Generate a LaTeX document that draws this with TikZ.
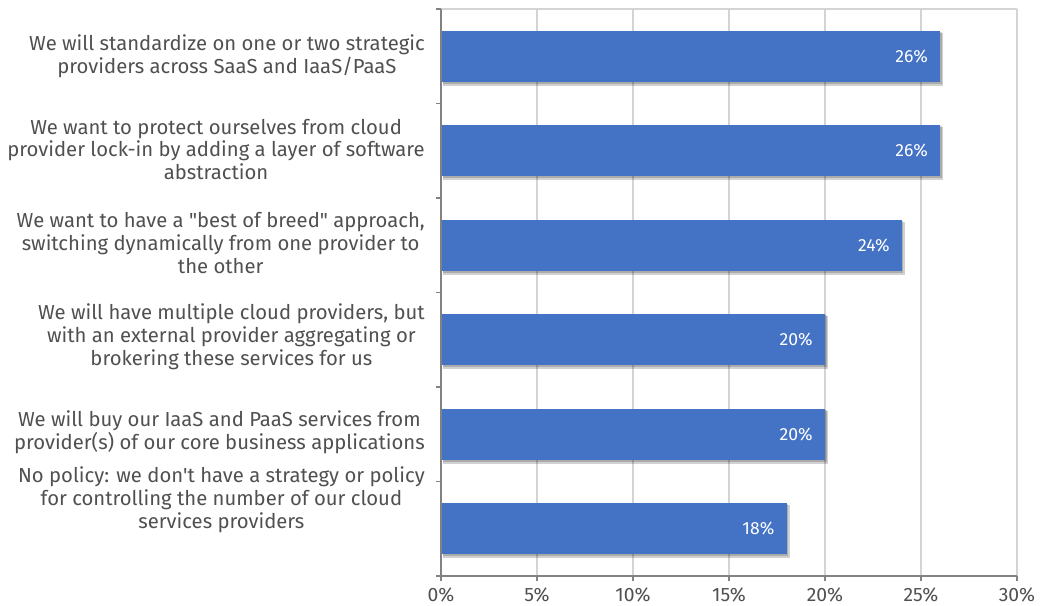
\documentclass[tikz,border=0pt]{standalone}
\usepackage{fontspec}
\setmainfont{Fira Sans}[Ligatures=TeXOff]
\definecolor{barblue}{RGB}{68,114,196}
\definecolor{txtgray}{RGB}{80,80,80}
\definecolor{gridgray}{RGB}{212,212,212}
\definecolor{axisgray}{RGB}{130,130,130}
\begin{document}
\begin{tikzpicture}[x=0.75pt,y=-0.75pt,
  gridline/.style={draw=gridgray,line width=1.2pt},
  axisline/.style={draw=axisgray,line width=1.3pt},
  catlabel/.style={anchor=east,align=center,text=txtgray,inner sep=0pt,font=\fontsize{15.2}{17.1}\selectfont},
  ticklabel/.style={text=txtgray,inner sep=0pt,font=\fontsize{14.5}{16}\selectfont},
  vallabel/.style={anchor=east,text=white,inner sep=0pt,font=\fontsize{13.2}{15}\selectfont},
  barshadow/.style={fill=black,opacity=0.18},
  barfill/.style={fill=barblue}]
\useasboundingbox (0,0) rectangle (1043,606);
\fill[white] (0,0) rectangle (1043,606);
% gridlines
\foreach \i in {1,...,6} \draw[gridline] ({441+\i*96},9) -- ({441+\i*96},576);
\draw[gridline] (441,9) -- (1017,9);
% bars
\foreach \v/\k in {26/1,26/2,24/3,20/4,20/5,18/6}{
  \pgfmathsetmacro{\yc}{9+(\k-0.5)*94.5}
  \pgfmathsetmacro{\xe}{441+\v*19.2}
  \fill[barshadow] (443,{\yc-25.5+2}) rectangle ({\xe+3},{\yc+25.5+4});
  \fill[barshadow] (443,{\yc-25.5+1}) rectangle ({\xe+1.5},{\yc+25.5+2});
  \fill[barfill] (441,{\yc-25.5}) rectangle (\xe,{\yc+25.5});
  \node[vallabel] (val\k) at ({\xe-12},\yc) {\v\%};
}
% axes
\draw[axisline] (441,9) -- (441,576);
\draw[axisline] (436,576) -- (1017,576);
\foreach \k in {0,...,6} \draw[axisline] (436,{9+\k*94.5}) -- (441,{9+\k*94.5});
\foreach \i in {0,...,6}{
  \draw[axisline] ({441+\i*96},576) -- ({441+\i*96},581);
  \pgfmathtruncatemacro{\p}{5*\i}
  \node[ticklabel] (tick\i) at ({441+\i*96},595) {\p\%};
}
% category labels
\node[catlabel] (c1) at (425,56.5) {We will standardize on one or two strategic\\providers across SaaS and IaaS/PaaS};
\node[catlabel] (c2) at (425,149.5) {We want to protect ourselves from cloud\\provider lock-in by adding a layer of software\\abstraction};
\node[catlabel] (c3) at (425,243) {We want to have a "best of breed" approach,\\switching dynamically from one provider to\\the other};
\node[catlabel] (c4) at (425,337) {We will have multiple cloud providers, but\\with an external provider aggregating or\\brokering these services for us};
\node[catlabel] (c5) at (425,432) {We will buy our IaaS and PaaS services from\\provider(s) of our core business applications};
\node[catlabel] (c6) at (425,500) {No policy: we don't have a strategy or policy\\for controlling the number of our cloud\\services providers};
\end{tikzpicture}
\end{document}
